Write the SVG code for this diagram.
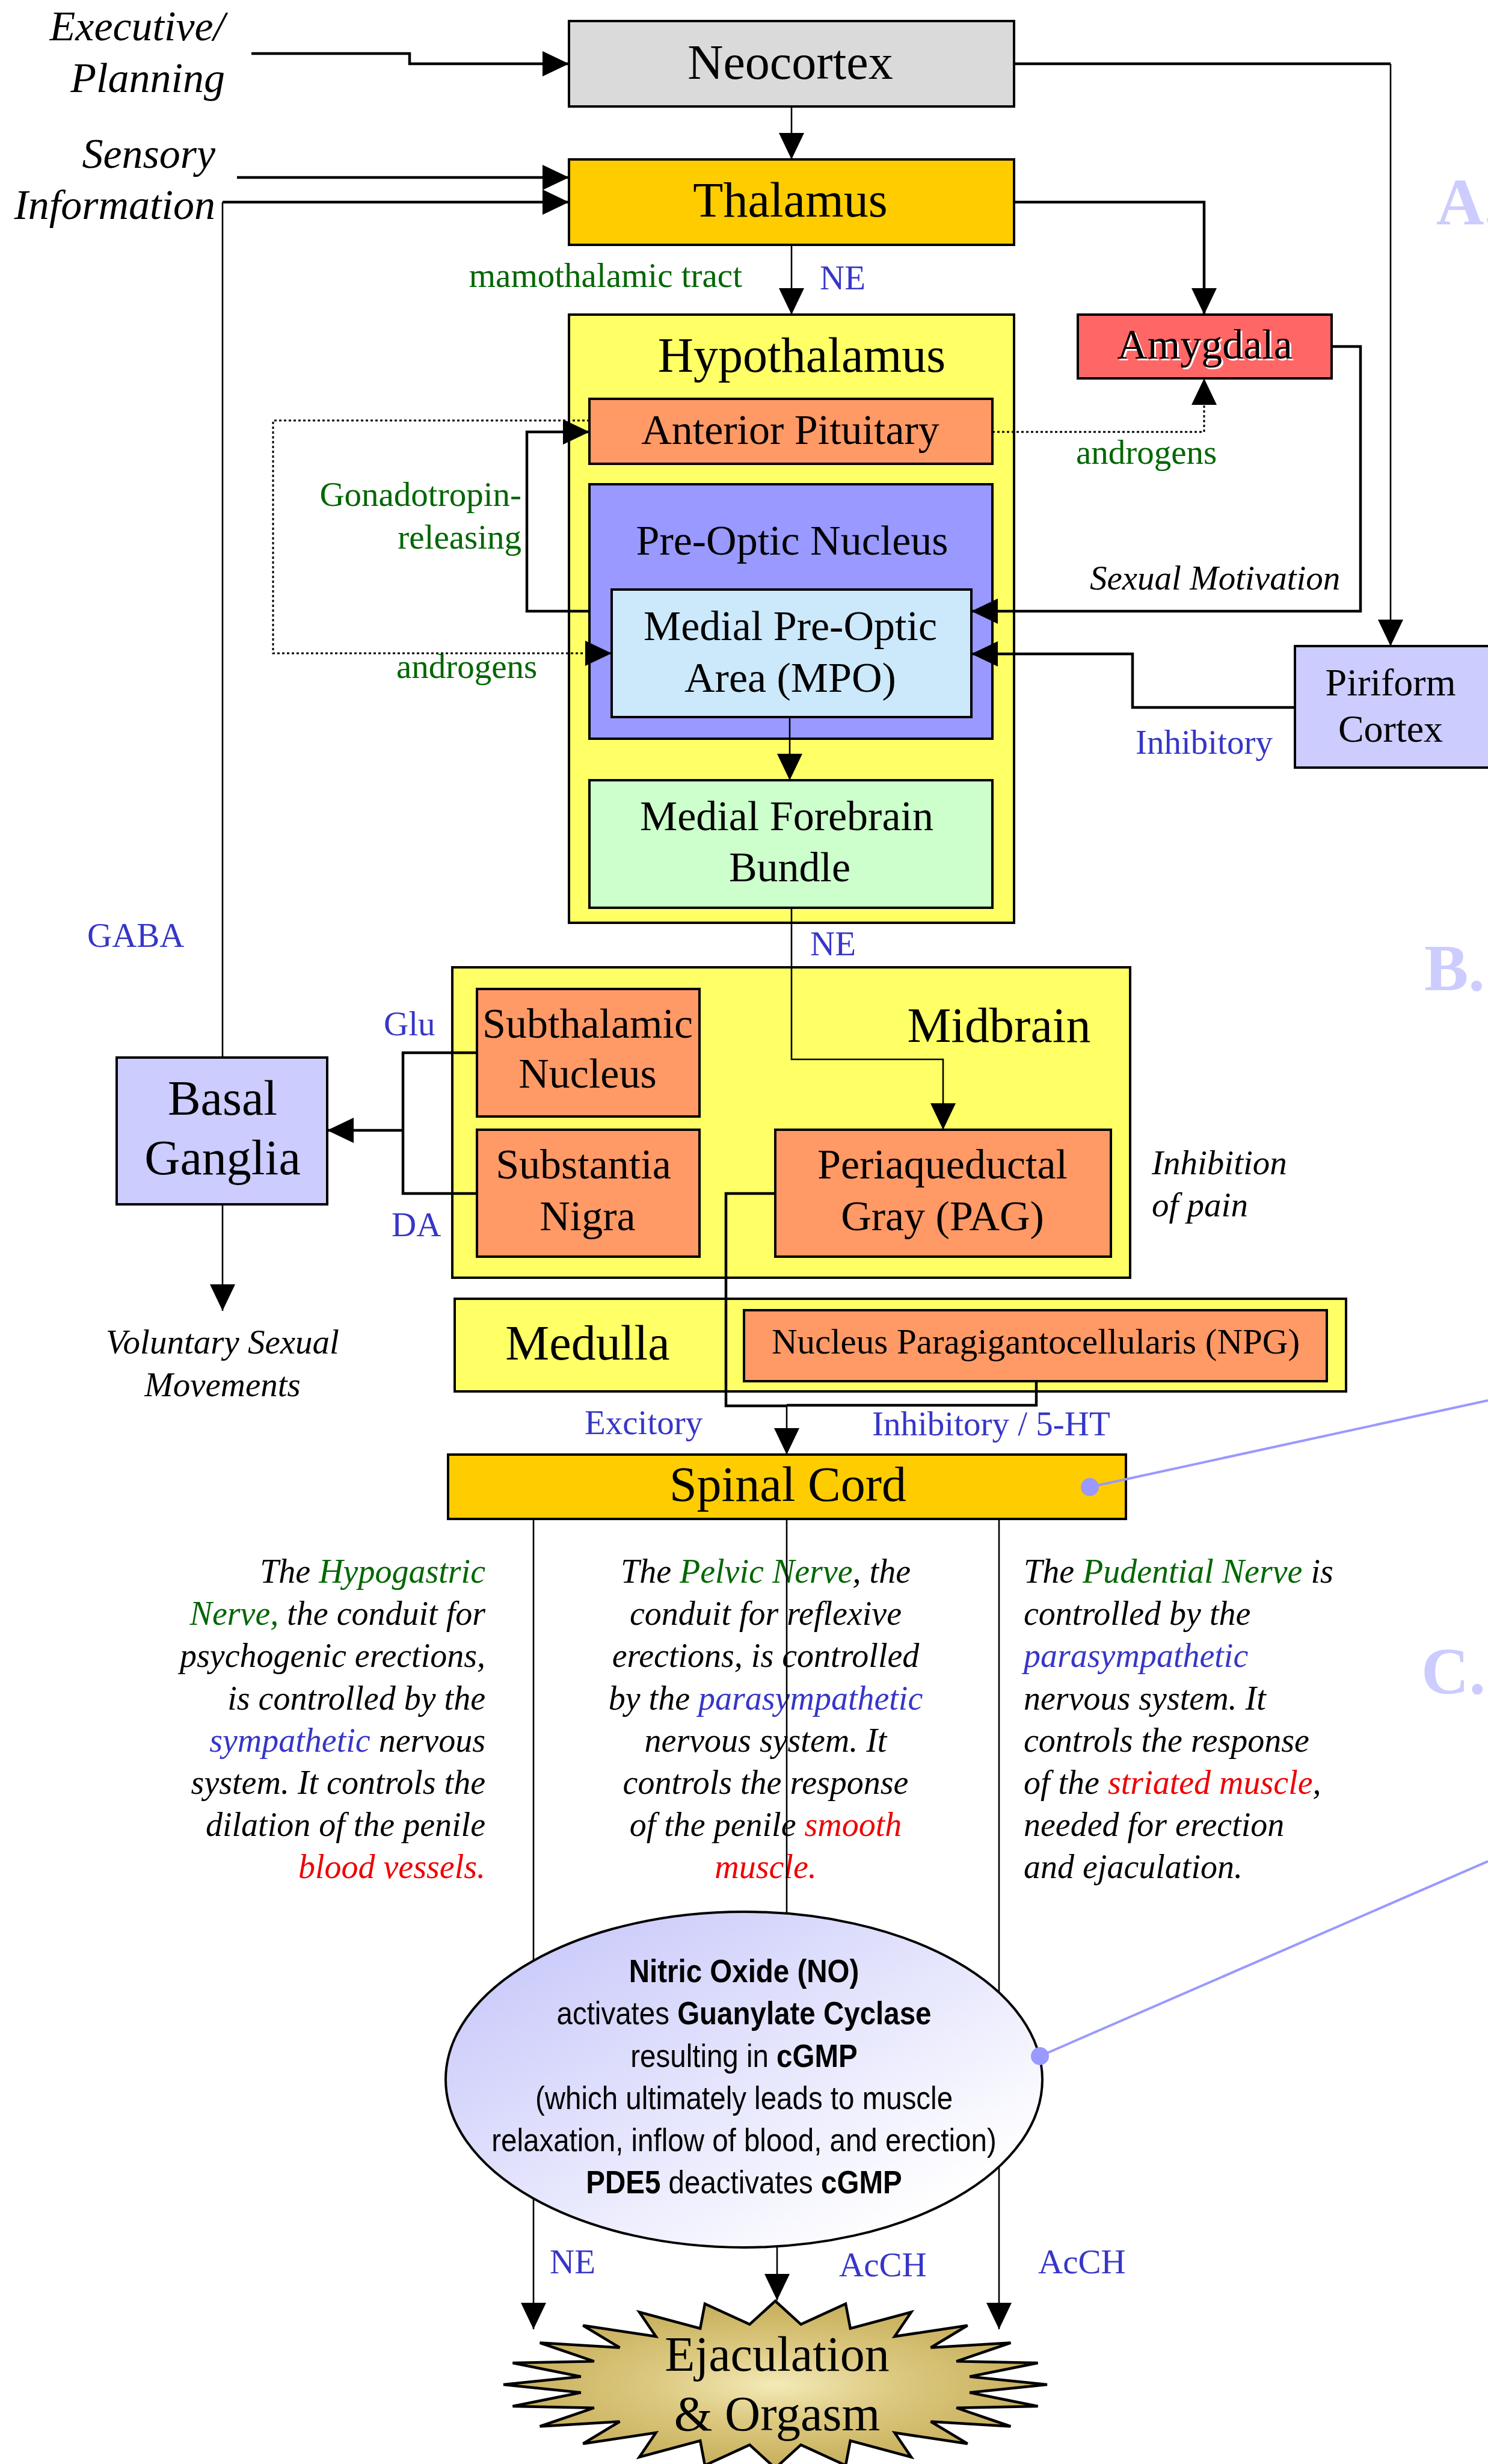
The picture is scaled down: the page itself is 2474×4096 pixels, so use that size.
<svg xmlns="http://www.w3.org/2000/svg" width="2474" height="4096" viewBox="0 0 2474 4096">
<defs>
<marker id="ah" markerUnits="userSpaceOnUse" markerWidth="46" markerHeight="44" refX="44" refY="21" orient="auto" overflow="visible">
<path d="M0,0 L44,21 L0,42 z" fill="#000"/>
</marker>
<linearGradient id="ellG" x1="0" y1="0" x2="1" y2="1">
<stop offset="0" stop-color="#c2c2fa"/>
<stop offset="0.85" stop-color="#ffffff"/>
</linearGradient>
<radialGradient id="starG" cx="0.5" cy="0.5" r="0.5">
<stop offset="0" stop-color="#f4eab8"/>
<stop offset="0.45" stop-color="#dcc980"/>
<stop offset="1" stop-color="#c6ae5a"/>
</radialGradient>
<style>
.box{stroke:#000;stroke-width:4}
.t{font-family:"Liberation Serif","Times New Roman",serif;fill:#000}
.big{font-size:82px}
.mid{font-size:70px}
.lab{font-size:57px}
.para{font-size:56px}
.blue{fill:#3636c8}
.green{fill:#006600}
.red{fill:#ee0000}
.it{font-style:italic}
.c{text-anchor:middle}
.e{text-anchor:end}
.ln{fill:none;stroke:#000;stroke-width:2.6}
.thk{stroke-width:4.5}
.dot{stroke-dasharray:4 4;stroke-width:3}
.arr{marker-end:url(#ah)}
.sans{font-family:"Liberation Sans",Arial,sans-serif;font-size:47.5px;fill:#000;text-anchor:middle}
.b{font-weight:bold}
.letter{font-family:"Liberation Serif","Times New Roman",serif;font-weight:bold;font-size:110px;fill:#ccccff}
.call{stroke:#9999ff;stroke-width:4;fill:none}
</style>
</defs>
<rect width="2474" height="4096" fill="#fff"/>

<g id="section-letters">
<text class="letter" x="2388" y="373">A.</text>
<text class="letter" x="2368" y="1646">B.</text>
<text class="letter" x="2363" y="2815">C.</text>
</g>

<g id="neocortex">
<rect class="box" x="946" y="35" width="740" height="142" fill="#dadada"/>
<text class="t big c" x="1314" y="131">Neocortex</text>
</g>
<g id="thalamus">
<rect class="box" x="946" y="265" width="740" height="142" fill="#ffcc00"/>
<text class="t big c" x="1314" y="360">Thalamus</text>
</g>
<g id="hypothalamus">
<rect class="box" x="946" y="523" width="740" height="1011" fill="#ffff66"/>
<text class="t big c" x="1333" y="618">Hypothalamus</text>
</g>
<g id="anterior-pituitary">
<rect class="box" x="980" y="663" width="670" height="108" fill="#ff9966"/>
<text class="t mid c" x="1314" y="738">Anterior Pituitary</text>
</g>
<g id="pre-optic-nucleus">
<rect class="box" x="980" y="805" width="670" height="423" fill="#9999ff"/>
<text class="t mid c" x="1317" y="922">Pre-Optic Nucleus</text>
</g>
<g id="mpo">
<rect class="box" x="1017" y="980" width="598" height="212" fill="#cce8fb"/>
<text class="t mid c" x="1314" y="1064">Medial Pre-Optic</text>
<text class="t mid c" x="1314" y="1150">Area (MPO)</text>
</g>
<g id="mfb">
<rect class="box" x="980" y="1297" width="670" height="212" fill="#ccffcc"/>
<text class="t mid c" x="1308" y="1380">Medial Forebrain</text>
<text class="t mid c" x="1313" y="1465">Bundle</text>
</g>
<g id="amygdala">
<rect class="box" x="1792" y="523" width="422" height="106" fill="#ff6666"/>
<text class="t mid c" x="2006" y="599" style="fill:#fff">Amygdala</text>
<text class="t mid c" x="2003" y="596">Amygdala</text>
</g>
<g id="piriform-cortex">
<rect class="box" x="2153" y="1074" width="330" height="202" fill="#ccccff"/>
<text class="t c" style="font-size:64px" x="2312" y="1156">Piriform</text>
<text class="t c" style="font-size:64px" x="2312" y="1233">Cortex</text>
</g>
<g id="midbrain">
<rect class="box" x="752" y="1608" width="1127" height="516" fill="#ffff66"/>
<text class="t big c" x="1661" y="1732">Midbrain</text>
</g>
<g id="subthalamic-nucleus">
<rect class="box" x="793" y="1644" width="370" height="212" fill="#ff9966"/>
<text class="t mid c" x="977" y="1725">Subthalamic</text>
<text class="t mid c" x="977" y="1808">Nucleus</text>
</g>
<g id="substantia-nigra">
<rect class="box" x="793" y="1878" width="370" height="211" fill="#ff9966"/>
<text class="t mid c" x="970" y="1959">Substantia</text>
<text class="t mid c" x="977" y="2045">Nigra</text>
</g>
<g id="pag">
<rect class="box" x="1289" y="1878" width="558" height="211" fill="#ff9966"/>
<text class="t mid c" x="1567" y="1959">Periaqueductal</text>
<text class="t mid c" x="1567" y="2045">Gray (PAG)</text>
</g>
<g id="basal-ganglia">
<rect class="box" x="194" y="1758" width="350" height="244" fill="#ccccff"/>
<text class="t big c" x="370" y="1853">Basal</text>
<text class="t big c" x="370" y="1952">Ganglia</text>
</g>
<g id="medulla">
<rect class="box" x="756" y="2159" width="1482" height="154" fill="#ffff66"/>
<text class="t big c" x="977" y="2260">Medulla</text>
</g>
<g id="npg">
<rect class="box" x="1237" y="2178" width="969" height="118" fill="#ff9966"/>
<text class="t c" style="font-size:59px" x="1722" y="2250">Nucleus Paragigantocellularis (NPG)</text>
</g>
<g id="spinal-cord">
<rect class="box" x="745" y="2418" width="1127" height="107" fill="#ffcc00"/>
<text class="t big c" x="1310" y="2495">Spinal Cord</text>
</g>

<g id="inputs">
<text class="t it e" style="font-size:70px" x="374" y="67">Executive/</text>
<text class="t it e" style="font-size:70px" x="374" y="153">Planning</text>
<text class="t it e" style="font-size:70px" x="358" y="279">Sensory</text>
<text class="t it e" style="font-size:70px" x="358" y="364">Information</text>
<text class="t it lab c" x="370" y="2250">Voluntary Sexual</text>
<text class="t it lab c" x="370" y="2321">Movements</text>
<text class="t it lab" x="1812" y="980">Sexual Motivation</text>
<text class="t it lab" x="1915" y="1952">Inhibition</text>
<text class="t it lab" x="1915" y="2022">of pain</text>
</g>

<g id="nerve-texts">
<text class="t it para e" x="807" y="2631">The <tspan class="green">Hypogastric</tspan></text>
<text class="t it para e" x="807" y="2701"><tspan class="green">Nerve,</tspan> the conduit for</text>
<text class="t it para e" x="807" y="2771">psychogenic erections,</text>
<text class="t it para e" x="807" y="2842">is controlled by the</text>
<text class="t it para e" x="807" y="2912"><tspan class="blue">sympathetic</tspan> nervous</text>
<text class="t it para e" x="807" y="2982">system. It controls the</text>
<text class="t it para e" x="807" y="3052">dilation of the penile</text>
<text class="t it para e" x="807" y="3122"><tspan class="red">blood vessels.</tspan></text>

<text class="t it para c" x="1273" y="2631">The <tspan class="green">Pelvic Nerve</tspan>, the</text>
<text class="t it para c" x="1273" y="2701">conduit for reflexive</text>
<text class="t it para c" x="1273" y="2771">erections, is controlled</text>
<text class="t it para c" x="1273" y="2842">by the <tspan class="blue">parasympathetic</tspan></text>
<text class="t it para c" x="1273" y="2912">nervous system. It</text>
<text class="t it para c" x="1273" y="2982">controls the response</text>
<text class="t it para c" x="1273" y="3052">of the penile <tspan class="red">smooth</tspan></text>
<text class="t it para c" x="1273" y="3122"><tspan class="red">muscle.</tspan></text>

<text class="t it para" x="1702" y="2631">The <tspan class="green">Pudential Nerve</tspan> is</text>
<text class="t it para" x="1702" y="2701">controlled by the</text>
<text class="t it para" x="1702" y="2771"><tspan class="blue">parasympathetic</tspan></text>
<text class="t it para" x="1702" y="2842">nervous system. It</text>
<text class="t it para" x="1702" y="2912">controls the response</text>
<text class="t it para" x="1702" y="2982">of the <tspan class="red">striated muscle</tspan>,</text>
<text class="t it para" x="1702" y="3052">needed for erection</text>
<text class="t it para" x="1702" y="3122">and ejaculation.</text>
</g>

<g id="connectors">
<path class="ln thk arr" d="M418,89 H681 V106 H946"/>
<path class="ln thk arr" d="M394,295 H946"/>
<path class="ln" d="M370,1758 V336"/>
<path class="ln thk arr" d="M370,336 H946"/>
<path class="ln arr" d="M1316,177 V265"/>
<path class="ln thk" d="M1686,106 H2312"/>
<path class="ln arr" d="M2312,106 V1074"/>
<path class="ln thk arr" d="M1686,336 H2002 V523"/>
<path class="ln arr" d="M1316,407 V523"/>
<path class="ln dot arr" d="M1650,718 H2002 V629"/>
<path class="ln thk arr" d="M2214,576 H2262 V1016 H1615"/>
<path class="ln thk arr" d="M2153,1176 H1883 V1087 H1615"/>
<path class="ln thk arr" d="M980,1016 H876 V718 H980"/>
<path class="ln dot arr" d="M980,699 H454 V1086 H1017"/>
<path class="ln arr" d="M1313,1192 V1297"/>
<path class="ln arr" d="M1316,1509 V1761 H1568 V1878"/>
<path class="ln thk" d="M793,1750 H670 V1984 H793"/>
<path class="ln thk arr" d="M670,1879 H544"/>
<path class="ln arr" d="M370,2002 V2179"/>
<path class="ln thk" d="M1289,1984 H1207 V2337 H1308"/>
<path class="ln thk" d="M1723,2296 V2336 H1308"/>
<path class="ln arr" d="M1308,2336 V2418"/>
<path class="ln arr" d="M887,2525 V3872"/>
<path class="ln arr" d="M1661,2525 V3872"/>
<path class="ln" d="M1308,2525 V3182"/>
<path class="ln arr" d="M1292,3736 V3824"/>
<text class="t lab green e" x="1234" y="477">mamothalamic tract</text>
<text class="t lab blue" x="1363" y="481">NE</text>
<text class="t lab green" x="1789" y="771">androgens</text>
<text class="t lab green e" x="867" y="841">Gonadotropin-</text>
<text class="t lab green e" x="867" y="912">releasing</text>
<text class="t lab green" x="659" y="1127">androgens</text>
<text class="t lab blue" x="1888" y="1253">Inhibitory</text>
<text class="t lab blue" x="145" y="1574">GABA</text>
<text class="t lab blue" x="1347" y="1588">NE</text>
<text class="t lab blue" x="638" y="1721">Glu</text>
<text class="t lab blue" x="651" y="2055">DA</text>
<text class="t lab blue" x="972" y="2384">Excitory</text>
<text class="t lab blue" x="1450" y="2386">Inhibitory / 5-HT</text>
<text class="t lab blue" x="914" y="3779">NE</text>
<text class="t lab blue" x="1395" y="3784">AcCH</text>
<text class="t lab blue" x="1726" y="3779">AcCH</text>
</g>

<g id="nitric-oxide">
<ellipse cx="1237" cy="3457" rx="496" ry="279" fill="url(#ellG)" stroke="#000" stroke-width="4"/>
<text class="sans" transform="translate(1237,3295) scale(1,1.13)"><tspan class="b">Nitric Oxide (NO)</tspan></text>
<text class="sans" transform="translate(1237,3365) scale(1,1.13)">activates <tspan class="b">Guanylate Cyclase</tspan></text>
<text class="sans" transform="translate(1237,3436) scale(1,1.13)">resulting in <tspan class="b">cGMP</tspan></text>
<text class="sans" transform="translate(1237,3506) scale(1,1.13)">(which ultimately leads to muscle</text>
<text class="sans" transform="translate(1237,3576) scale(1,1.13)">relaxation, inflow of blood, and erection)</text>
<text class="sans" transform="translate(1237,3646) scale(1,1.13)"><tspan class="b">PDE5</tspan> deactivates <tspan class="b">cGMP</tspan></text>
</g>

<g id="ejaculation-orgasm">
<path d="M1741,3964 L1612.2,3950.8 L1725.6,3928 L1590.2,3925.3 L1680.4,3894.5 L1547.6,3902.5 L1608.6,3865.7 L1487.5,3883.9 L1515,3843.6 L1413.8,3870.7 L1406,3829.7 L1331.6,3863.9 L1289,3825 L1246.4,3863.9 L1172,3829.7 L1164.2,3870.7 L1063,3843.6 L1090.5,3883.9 L969.4,3865.7 L1030.4,3902.5 L897.6,3894.5 L987.8,3925.3 L852.4,3928 L965.8,3950.8 L837,3964 L965.8,3977.2 L852.4,4000 L987.8,4002.7 L897.6,4033.5 L1030.4,4025.5 L969.4,4062.3 L1090.5,4044.1 L1063,4084.4 L1164.2,4057.3 L1172,4098.3 L1246.4,4064.1 L1289,4103 L1331.6,4064.1 L1406,4098.3 L1413.8,4057.3 L1515,4084.4 L1487.5,4044.1 L1608.6,4062.3 L1547.6,4025.5 L1680.4,4033.5 L1590.2,4002.7 L1725.6,4000 L1612.2,3977.2 Z" fill="url(#starG)" stroke="#000" stroke-width="4.5" stroke-linejoin="miter"/>
<text class="t big c" x="1292" y="3941">Ejaculation</text>
<text class="t big c" x="1292" y="4040">&amp; Orgasm</text>
</g>

<g id="callouts">
<line class="call" x1="1812" y1="2472" x2="2474" y2="2328"/>
<circle cx="1812" cy="2472" r="15" fill="#9999ff"/>
<line class="call" x1="1729" y1="3418" x2="2474" y2="3094"/>
<circle cx="1729" cy="3418" r="15" fill="#9999ff"/>
</g>
</svg>
